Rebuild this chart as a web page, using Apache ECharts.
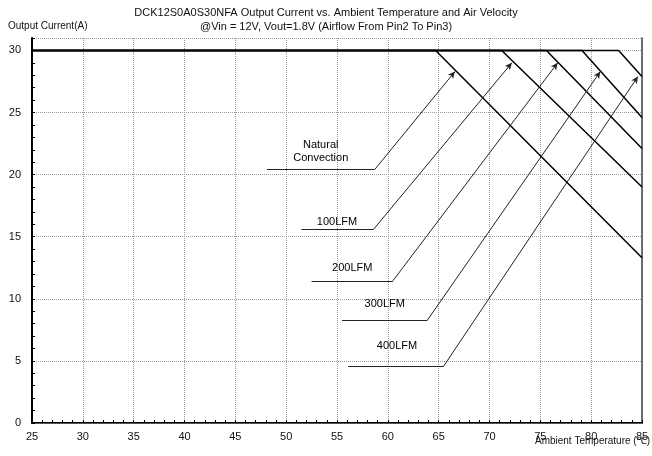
<!DOCTYPE html>
<html><head><meta charset="utf-8">
<script src="https://cdn.jsdelivr.net/npm/echarts@6/dist/echarts.min.js"></script>
<style>html,body{margin:0;padding:0;background:#fff}#c{width:652px;height:456px}</style>
</head><body><div id="c"></div>
<script>
// ---- data ----
const curveNames = ['Natural Convection', '100LFM', '200LFM', '300LFM', '400LFM'];
const ratedCurrent = 30;                                   // A, flat part
const derateStartTemp = [64.7, 71.2, 75.6, 79.1, 82.7];    // °C where derating begins
const currentAt85C = [13.3, 19.0, 22.1, 24.6, 27.9];       // A at 85 °C
const labelTexts = ['Natural\nConvection', '100LFM', '200LFM', '300LFM', '400LFM'];
const labelTemp = [53.4, 55.0, 56.5, 59.7, 60.9];
const labelCurrent = [21.9, 16.2, 12.45, 9.57, 6.22];
const leaderStartTemp = [48.1, 51.5, 52.5, 55.5, 56.1];
const leaderBendTemp = [58.7, 58.6, 60.5, 63.9, 65.5];
const leaderCurrent = [20.4, 15.6, 11.45, 8.29, 4.59];
const arrowTemp = [66.6, 72.2, 76.7, 80.9, 84.6];
const arrowCurrent = [28.3, 29.0, 29.0, 28.3, 27.9];
const tempMin = 25, tempMax = 85, tempStep = 5;
const currentMin = 0, currentMax = 31, currentStep = 5;

const FONT = 'Liberation Sans, Arial, sans-serif';
const chart = echarts.init(document.getElementById('c'), null, {renderer: 'canvas'});

const curveSeries = curveNames.map((n, i) => ({
  name: n, type: 'line', xAxisIndex: 0, yAxisIndex: 0,
  data: [[tempMin, ratedCurrent], [derateStartTemp[i], ratedCurrent], [tempMax, currentAt85C[i]]],
  showSymbol: false, symbol: 'none', z: 4,
  lineStyle: {color: '#000', width: 1.5}
}));

const leaderData = [];
for (let i = 0; i < labelTexts.length; i++) {
  leaderData.push([{coord: [leaderStartTemp[i], leaderCurrent[i]]}, {coord: [leaderBendTemp[i], leaderCurrent[i]]}]);
  leaderData.push([{coord: [leaderBendTemp[i], leaderCurrent[i]]}, {coord: [arrowTemp[i], arrowCurrent[i]], symbol: 'arrow'}]);
}

const option = {
  animation: false,
  backgroundColor: '#fff',
  textStyle: {fontFamily: FONT},
  title: [
    {text: 'DCK12S0A0S30NFA Output Current vs. Ambient Temperature and Air Velocity', left: 'center', top: 2,
     padding: [5, 5, 5, 5], textStyle: {fontSize: 11, fontWeight: 'normal', color: '#111', fontFamily: FONT}},
    {text: '@Vin = 12V, Vout=1.8V (Airflow From Pin2 To Pin3)', left: 'center', top: 16,
     padding: [5, 0, 5, 12], textStyle: {fontSize: 11, fontWeight: 'normal', color: '#111', fontFamily: FONT}}
  ],
  grid: {left: 32, right: 10, top: 38, bottom: 33, containLabel: false},
  xAxis: [{
    type: 'value', min: tempMin, max: tempMax, interval: tempStep, position: 'bottom',
    axisLine: {lineStyle: {color: '#000', width: 2}},
    axisTick: {inside: true, length: 3, lineStyle: {color: '#000'}},
    minorTick: {show: true, splitNumber: 5, length: 3, lineStyle: {color: '#000'}},
    axisLabel: {fontSize: 11, color: '#111', margin: 8, fontFamily: FONT},
    splitLine: {show: true, lineStyle: {color: '#9a9a9a', type: 'dotted', width: 1}}
  }, {
    type: 'value', min: tempMin, max: tempMax, position: 'top',
    axisLine: {show: true, lineStyle: {color: '#555', width: 1}},
    axisTick: {show: false}, axisLabel: {show: false}, splitLine: {show: false}
  }],
  yAxis: [{
    type: 'value', min: currentMin, max: currentMax, interval: currentStep, position: 'left',
    axisLine: {show: true, lineStyle: {color: '#000', width: 2}},
    axisTick: {show: true, inside: true, length: 3, lineStyle: {color: '#000'}},
    minorTick: {show: true, splitNumber: 5, length: 3, lineStyle: {color: '#000'}},
    axisLabel: {fontSize: 11, color: '#111', margin: 11, fontFamily: FONT,
      formatter: v => (v > ratedCurrent ? '' : String(v))},
    splitLine: {show: true, lineStyle: {color: '#9a9a9a', type: 'dotted', width: 1}}
  }, {
    type: 'value', min: currentMin, max: currentMax, position: 'right',
    axisLine: {show: true, lineStyle: {color: '#444', width: 1.5}},
    axisTick: {show: false}, axisLabel: {show: false}, splitLine: {show: false}
  }],
  graphic: [
    {type: 'text', left: 8, top: 21, style: {text: 'Output Current(A)', fontSize: 10, fill: '#111', fontFamily: FONT}},
    {type: 'text', right: 2, top: 436, style: {text: 'Ambient Temperature (℃)', fontSize: 10, fill: '#111', fontFamily: FONT}}
  ],
  series: curveSeries.concat([
    {
      name: 'leaders', type: 'line', data: [], xAxisIndex: 0, yAxisIndex: 0,
      markLine: {
        silent: true, animation: false, symbol: ['none', 'none'], symbolSize: [5, 7],
        label: {show: false},
        lineStyle: {color: '#222', width: 1, type: 'solid'},
        itemStyle: {color: '#000'},
        emphasis: {disabled: true},
        data: leaderData
      }
    },
    {
      name: 'labels', type: 'scatter', xAxisIndex: 0, yAxisIndex: 0, symbolSize: 0, silent: true, z: 5,
      itemStyle: {color: '#000'},
      data: labelTexts.map((t, i) => ({name: t, value: [labelTemp[i], labelCurrent[i]]})),
      label: {show: true, position: 'inside', formatter: p => p.name, fontSize: 11, color: '#000',
        textBorderWidth: 0, textShadowBlur: 0, opacity: 1,
        lineHeight: 13, align: 'center', fontFamily: FONT}
    }
  ])
};
chart.setOption(option);
</script></body></html>
